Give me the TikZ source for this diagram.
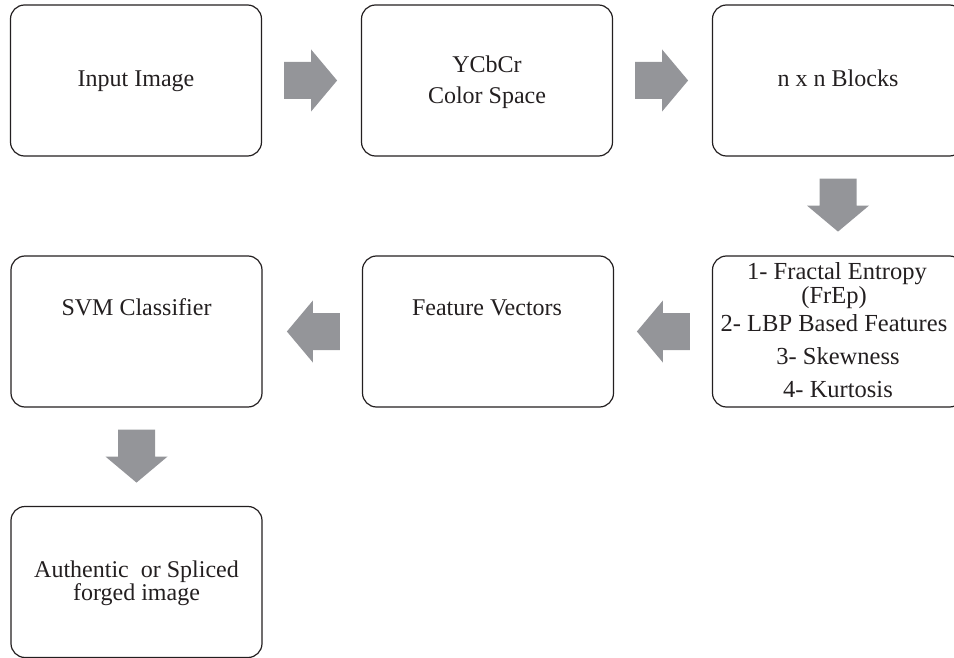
\documentclass[tikz,border=0pt]{standalone}
\usepackage{fontspec}
\setmainfont{Liberation Serif}
\usetikzlibrary{calc}

\definecolor{inkdark}{RGB}{35,31,32}
\definecolor{arrowgray}{RGB}{148,149,153}

\tikzset{
  stage/.style={draw=inkdark, line width=1.2pt, rounded corners=14pt,
    minimum width=251pt, minimum height=151pt, inner sep=0pt},
  caption/.style={text=inkdark, font=\fontsize{24}{28}\selectfont,
    inner sep=0pt, anchor=base},
  listline/.style={caption, font=\fontsize{24.5}{28}\selectfont},
  arrowfill/.style={fill=arrowgray, draw=none}
}

% Block arrow between two node anchors: starts 22pt past the first one,
% 53pt long; #3 is the direction angle.
\newcommand\flowarrow[3]{%
  \coordinate (fa-tail) at ($(#1)!22pt!(#2)$);
  \fill[arrowfill, shift={(fa-tail)}, rotate=#3]
    (0,-18.5) -- (27,-18.5) -- (27,-31) -- (53,0) -- (27,31)
    -- (27,18.5) -- (0,18.5) -- cycle;
}

\begin{document}
\begin{tikzpicture}[x=1pt, y=1pt]
  \useasboundingbox (0,0) rectangle (954,-658);
  \clip (0,0) rectangle (954,-658);

  % stages
  \node[stage] (b1) at (136,-80.5) {};
  \node[stage] (b2) at (487,-80.5) {};
  \node[stage] (b3) at (838,-80.5) {};
  \node[stage] (b4) at (838,-331.5) {};
  \node[stage] (b5) at (488,-331.5) {};
  \node[stage] (b6) at (136.5,-331.5) {};
  \node[stage] (b7) at (136.5,-582) {};

  % captions
  \node[caption] (t1) at (136,-87) {Input Image};
  \node[caption] (t2a) at (487,-73) {YCbCr};
  \node[caption] (t2b) at (487,-104) {Color Space};
  \node[caption] (t3) at (838,-87) {n x n Blocks};
  \node[listline] (t4a) at (837,-279) {1- Fractal Entropy};
  \node[listline] (t4b) at (834,-303.5) {(FrEp)};
  \node[listline] (t4c) at (834,-331) {2- LBP Based Features};
  \node[listline] (t4d) at (838,-364) {3- Skewness};
  \node[listline] (t4e) at (838,-397) {4- Kurtosis};
  \node[caption] (t5) at (487,-315) {Feature Vectors};
  \node[caption] (t6) at (136.5,-315) {SVM Classifier};
  \node[caption] (t7a) at (136.5,-577) {Authentic\ \ or Spliced};
  \node[caption] (t7b) at (136.5,-600) {forged image};

  % flow
  \flowarrow{b1.east}{b2.west}{0}
  \flowarrow{b2.east}{b3.west}{0}
  \flowarrow{b3.south}{b4.north}{-90}
  \flowarrow{b4.west}{b5.east}{180}
  \flowarrow{b5.west}{b6.east}{180}
  \flowarrow{b6.south}{b7.north}{-90}
\end{tikzpicture}
\end{document}
